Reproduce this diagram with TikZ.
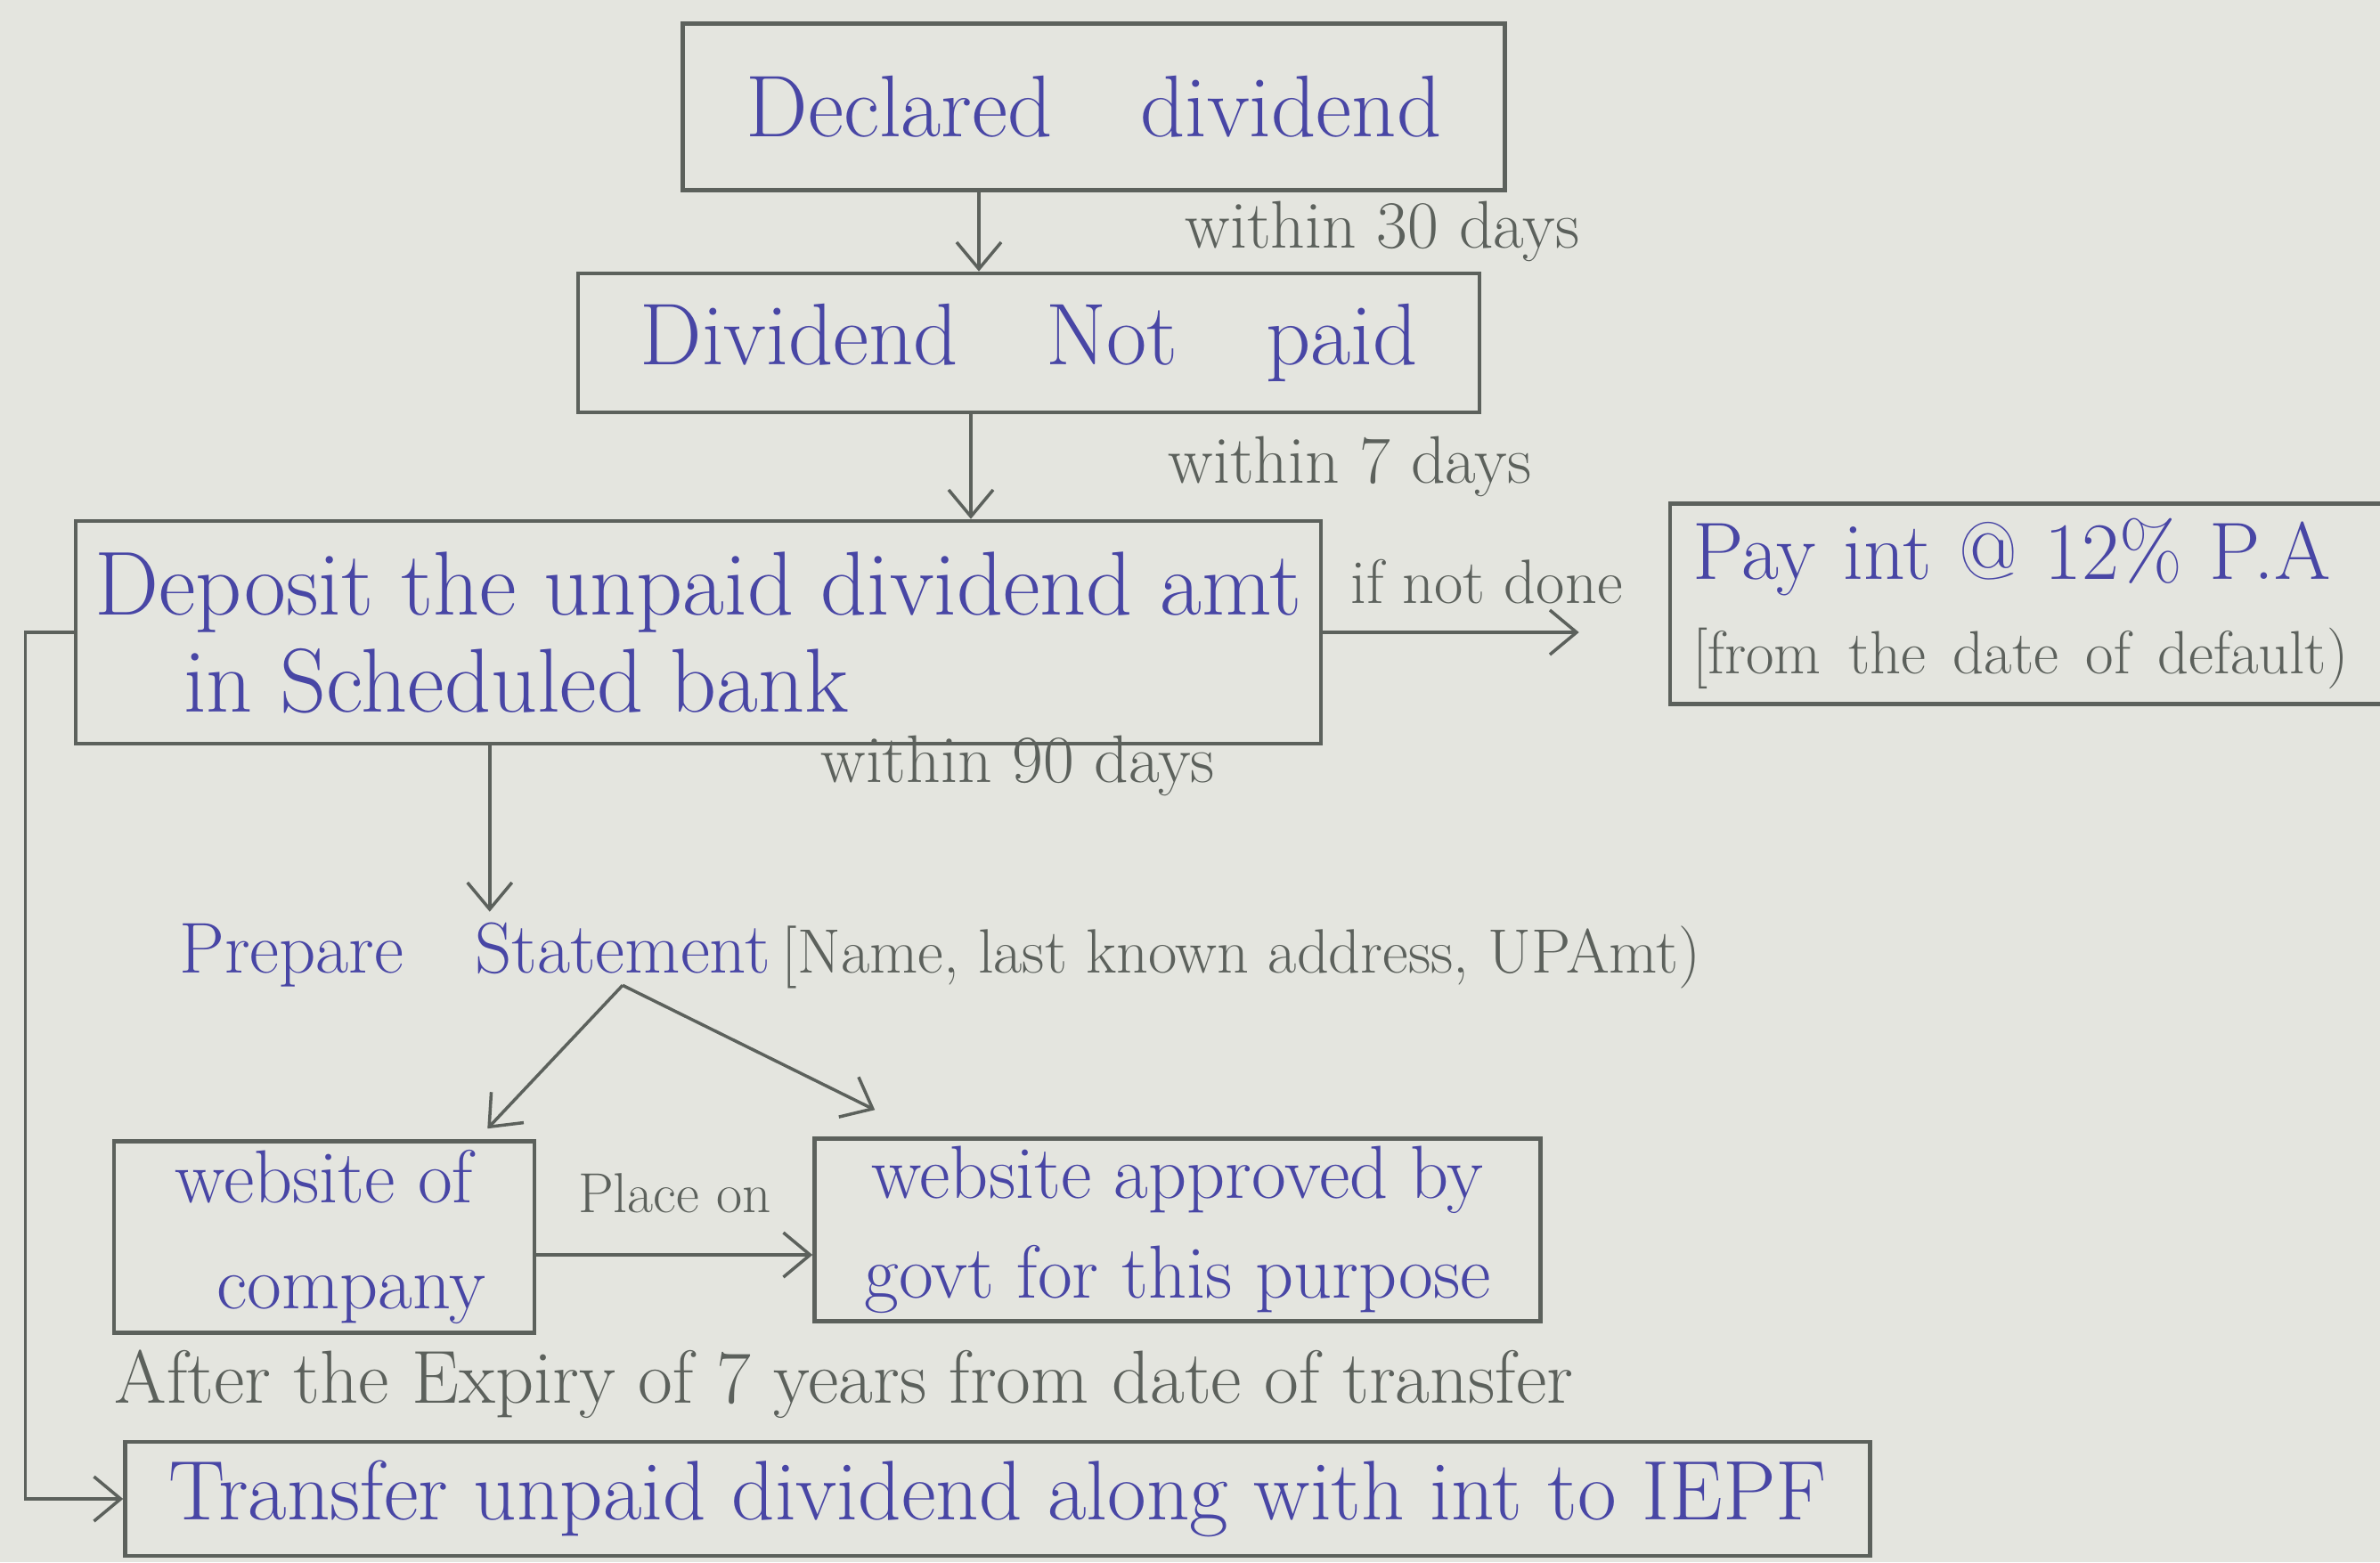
\documentclass[tikz,border=0pt]{standalone}
\usepackage{tikz}
\usetikzlibrary{arrows.meta, positioning, calc}
\definecolor{paper}{RGB}{228,229,223}
\definecolor{ink}{RGB}{72,70,165}
\definecolor{pencil}{RGB}{92,97,92}

\begin{document}
\begin{tikzpicture}[
    every node/.style={font=\fontsize{28}{32}\selectfont},
    box/.style={rectangle, draw=pencil, line width=1.3pt, text=ink, align=center, inner sep=0pt},
    note/.style={text=pencil, font=\fontsize{21.5}{25}\selectfont, inner sep=0pt},
    arr/.style={-{Straight Barb[length=3mm,width=5mm]}, draw=pencil, line width=1pt}
]
% paper
\useasboundingbox (0,0) rectangle (26.72,-17.54);
\fill[paper] (0,0) rectangle (26.72,-17.54);

% main chain
\node[box, minimum width=9.23cm, minimum height=1.87cm] (decl) at (12.28,-1.20) {Declared\quad dividend};
\node[box, minimum width=10.12cm, minimum height=1.56cm] (notpaid) at (11.55,-3.85) {Dividend\quad Not\quad paid};
\node[box, align=left, font=\fontsize{29}{31}\selectfont, minimum width=13.98cm, minimum height=2.5cm] (deposit) at (7.84,-7.10)
    {Deposit the unpaid dividend amt\\\hspace*{1cm}in Scheduled bank};
\node[box, align=left, font=\fontsize{26}{30}\selectfont, text width=7.6cm, inner xsep=0.25cm, minimum height=2.25cm] (payint) at (22.80,-6.78)
    {Pay int @ 12\% P.A\\{\color{pencil}\fontsize{19.5}{24}\selectfont[from the date of default)}};

\draw[arr] ([xshift=-1.29cm]decl.south) -- ([xshift=-1.29cm]decl.south |- notpaid.north)
    node[note, midway, anchor=west, xshift=2.3cm] {within 30 days};
\draw[arr] ([xshift=-0.65cm]notpaid.south) -- ([xshift=-0.65cm]notpaid.south |- deposit.north)
    node[note, midway, anchor=west, xshift=2.2cm] {within 7 days};
\draw[arr] (deposit.east) -- ([xshift=-1cm]payint.west |- deposit.east)
    node[note, midway, above=0.3cm, xshift=0.4cm, font=\fontsize{20}{24}\selectfont] {if not done};

% statement
\node[text=ink, font=\fontsize{23}{28}\selectfont] (stmt) at (6.99,-10.65) {Statement};
\node[text=ink, font=\fontsize{23}{28}\selectfont, base left=0.55cm of stmt] (prep) {Prepare};
\node[note, font=\fontsize{20}{24}\selectfont, base right=0pt of stmt] (detail) {[Name, last known address, UPAmt)};

\coordinate (dep-out) at ($(deposit.south west)!0.333!(deposit.south east)$);
\draw[arr] (dep-out) -- (dep-out |- stmt.north)
    node[note, pos=0.12, anchor=west, xshift=3.7cm] {within 90 days};

% websites
\node[box, font=\fontsize{24}{34}\selectfont, minimum width=4.72cm, minimum height=2.15cm] (comp) at (3.64,-13.89)
    {website of\\\hspace*{0.6cm}company};
\node[box, font=\fontsize{24}{32}\selectfont, minimum width=8.15cm, minimum height=2.05cm] (govt) at (13.22,-13.81)
    {website approved by\\govt for this purpose};

\draw[arr] (stmt.south) -- ($(comp.north east)+(-0.55,0.12)$);
\draw[arr] (stmt.south) -- ($(govt.north west)+(0.7,0.3)$);
\draw[arr] ([yshift=-0.2cm]comp.east) -- ([yshift=-0.2cm]comp.east -| govt.west)
    node[note, midway, above=0.45cm, font=\fontsize{18}{22}\selectfont] {Place on};

% IEPF
\node[note, anchor=west, font=\fontsize{24}{28}\selectfont] (after) at (1.28,-15.54)
    {After the Expiry of 7 years from date of transfer};
\node[box, font=\fontsize{27}{30}\selectfont, minimum width=19.59cm, minimum height=1.28cm] (iepf) at (11.20,-16.83)
    {Transfer unpaid dividend along with int to IEPF};

\draw[arr] (deposit.west) -- ++(-0.54,0) |- (iepf.west);

\end{tikzpicture}
\end{document}
